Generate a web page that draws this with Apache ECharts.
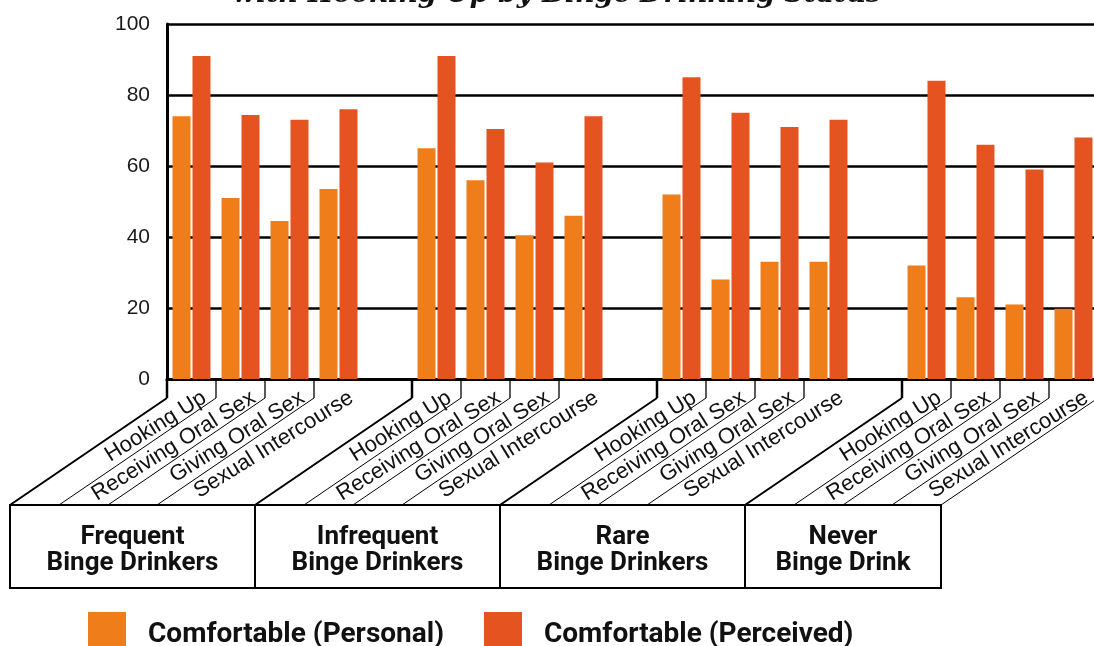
<!DOCTYPE html>
<html>
<head>
<meta charset="utf-8">
<script src="https://cdn.jsdelivr.net/npm/echarts@6/dist/echarts.min.js"></script>
<style>
html,body{margin:0;padding:0;background:#fff;overflow:hidden;width:1094px;height:646px;}
#chart{width:1170px;height:646px;}
</style>
</head>
<body>
<div id="chart"></div>
<script>
// ---- data ----
const groups = ['Frequent\nBinge Drinkers', 'Infrequent\nBinge Drinkers', 'Rare\nBinge Drinkers', 'Never\nBinge Drink'];
const activities = ['Hooking Up', 'Receiving Oral Sex', 'Giving Oral Sex', 'Sexual Intercourse'];
const personal = [74, 51, 44.5, 53.5, 65, 56, 40.5, 46, 52, 28, 33, 33, 32, 23, 21, 19.8];
const perceived = [91, 74.4, 73, 76, 91, 70.4, 61, 74, 85, 75, 71, 73, 84, 66, 59, 68];
const seriesNames = ['Comfortable (Personal)', 'Comfortable (Perceived)'];
const yTicks = [0, 20, 40, 60, 80, 100];
const titleText = 'with Hooking Up by Binge Drinking Status';

// build slots: 4 activities + 1 gap per group
const xData = [], pData = [], qData = [], isGap = [];
groups.forEach((g, gi) => {
  activities.forEach((a, ai) => {
    xData.push(a + '#' + gi);
    pData.push(personal[gi * 4 + ai]);
    qData.push(perceived[gi * 4 + ai]);
    isGap.push(false);
  });
  xData.push('gap#' + gi);
  pData.push('-');
  qData.push('-');
  isGap.push(true);
});

const chart = echarts.init(document.getElementById('chart'), null, {renderer: 'canvas'});
const C1 = '#EE7D1A', C2 = '#E55321';

chart.setOption({
  animation: false,
  grid: {left: 167, top: 24, width: 980, height: 355, containLabel: false},
  legend: {
    left: 88, top: 612, padding: 0,
    itemWidth: 38, itemHeight: 38, itemGap: 40,
    icon: 'rect',
    data: seriesNames,
    formatter: '{t|{name}}',
    textStyle: {
      fontFamily: 'Roboto', fontWeight: 'bold', fontSize: 28, color: '#111',
      rich: {t: {fontFamily: 'Roboto', fontWeight: 'bold', fontSize: 28, color: '#111', padding: [8, 0, 0, 17]}}
    }
  },
  xAxis: {
    type: 'category', data: xData,
    axisLine: {show: true, lineStyle: {color: '#000', width: 3}},
    axisTick: {show: false},
    axisLabel: {show: false},
    splitLine: {show: false}
  },
  yAxis: {
    type: 'value', min: yTicks[0], max: yTicks[yTicks.length - 1], interval: 20,
    axisLine: {show: true, lineStyle: {color: '#000', width: 3}},
    axisTick: {show: false},
    axisLabel: {fontFamily: 'Liberation Sans', fontSize: 21, color: '#1a1a1a', margin: 17},
    splitLine: {show: true, lineStyle: {color: '#000', width: 2.5}}
  },
  series: [
    {name: seriesNames[0], type: 'bar', data: pData, barWidth: 18, barGap: '11%', itemStyle: {color: C1}},
    {name: seriesNames[1], type: 'bar', data: qData, barWidth: 18, itemStyle: {color: C2}}
  ]
});

// ---- custom multi-level axis decoration ----
const cx = i => chart.convertToPixel({xAxisIndex: 0}, i);
const y0 = chart.convertToPixel({yAxisIndex: 0}, 0);
const sw = cx(1) - cx(0);
const bx = b => cx(b) - sw / 2;        // left boundary of slot b
const tickLen = 19, diagDy = 107, diagDx = 157, boxH = 83;
const els = [];

// title (top line cropped)
els.push({type: 'text', x: 557, y: -5, style: {text: titleText, font: 'bold italic 27px "DejaVu Serif"', fill: '#111', align: 'center', verticalAlign: 'middle'}});

const bounds = [];
groups.forEach((g, gi) => {
  const s = gi * 5;
  for (let k = 0; k < 4; k++) bounds.push({b: s + k, thick: k === 0});
  if (gi === groups.length - 1) bounds.push({b: s + 4, thick: false});
});
bounds.forEach(o => {
  const x = bx(o.b);
  els.push({type: 'line', shape: {x1: x, y1: y0, x2: x, y2: y0 + tickLen}, style: {stroke: '#000', lineWidth: o.thick ? 2.5 : 1.3}});
  els.push({type: 'line', shape: {x1: x, y1: y0 + tickLen, x2: x - diagDx, y2: y0 + tickLen + diagDy}, style: {stroke: '#000', lineWidth: o.thick ? 2 : 1}});
});

// category labels
xData.forEach((name, i) => {
  if (isGap[i]) return;
  els.push({
    type: 'text', x: cx(i) + 13, y: y0 + 17, rotation: 32 * Math.PI / 180,
    style: {text: activities[i % 5], font: '22px "Liberation Sans"', fill: '#111', align: 'right', verticalAlign: 'middle'}
  });
});

// group boxes
const boxTop = y0 + tickLen + diagDy;
const boxLeft = bx(0) - diagDx, boxRight = bx(19) - diagDx;
els.push({type: 'rect', shape: {x: boxLeft, y: boxTop, width: boxRight - boxLeft, height: boxH}, style: {fill: 'none', stroke: '#000', lineWidth: 2}});
groups.forEach((g, gi) => {
  const l = bx(gi * 5) - diagDx;
  const r = gi < groups.length - 1 ? bx((gi + 1) * 5) - diagDx : boxRight;
  if (gi > 0) els.push({type: 'line', shape: {x1: l, y1: boxTop, x2: l, y2: boxTop + boxH}, style: {stroke: '#000', lineWidth: 2}});
  els.push({type: 'text', x: (l + r) / 2, y: boxTop + boxH / 2 + 4,
    style: {text: g, font: 'bold 26px Roboto', fill: '#111', align: 'center', verticalAlign: 'middle', lineHeight: 26}});
});

chart.setOption({graphic: {elements: els}});
</script>
</body>
</html>
